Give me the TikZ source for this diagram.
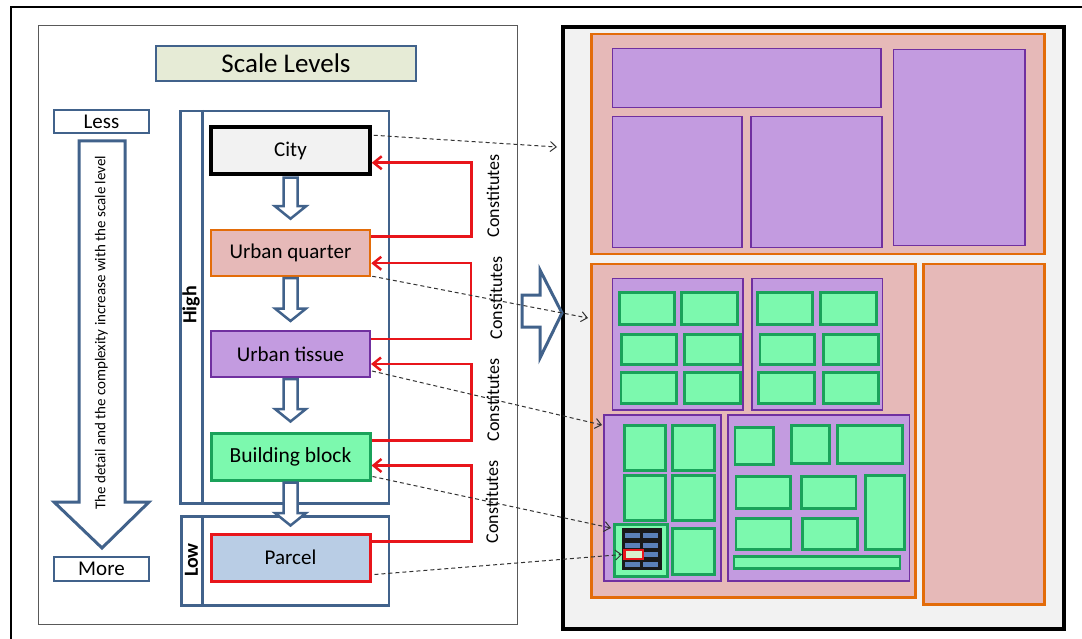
\documentclass[tikz,border=0pt]{standalone}
\usepackage{fontspec}
\setmainfont{Carlito}
\usetikzlibrary{arrows.meta,calc}
\definecolor{steel}{HTML}{41628B}
\definecolor{orgline}{HTML}{E36C09}
\definecolor{orgfill}{HTML}{E6B9B8}
\definecolor{purline}{HTML}{7030A0}
\definecolor{purfill}{HTML}{C39BE0}
\definecolor{grnline}{HTML}{1AA25A}
\definecolor{grnfill}{HTML}{7CF9AE}
\definecolor{redln}{HTML}{E8151B}
\definecolor{parfill}{HTML}{B9CDE5}
\definecolor{cityfill}{HTML}{F2F2F2}
\definecolor{titfill}{HTML}{E6EBD6}
\definecolor{mapfill}{HTML}{F2F2F2}
\definecolor{cellblue}{HTML}{5B80B8}
\definecolor{dashcol}{HTML}{333333}
\newcommand\rb[6]{\node[#1,anchor=north west,inner sep=0pt,minimum width={#5pt-#3pt},minimum height={#6pt-#4pt}] (#2) at (#3,#4) {};}
\newcommand\harrow[4]{%
\draw[hollow] let \p1=(#1.south), \p2=(#2.north) in
 (\x1-7pt,\y1-#3) -- (\x1+7pt,\y1-#3) -- (\x1+7pt,\y2+#4+12.5pt) -- (\x1+15.5pt,\y2+#4+12.5pt) -- (\x1,\y2+#4) -- (\x1-15.5pt,\y2+#4+12.5pt) -- (\x1-7pt,\y2+#4+12.5pt) -- cycle;}
\tikzset{
 sbox/.style={draw=steel,line width=2.5pt,fill=white},
 lvl/.style={line width=2.5pt,minimum width=159pt,font=\fontsize{21}{25}\selectfont,inner sep=0pt},
 hollow/.style={draw=steel,line width=2.5pt,fill=white,line join=miter},
 redline/.style={draw=redln,line width=2.5pt,-{Straight Barb[length=8pt,width=13pt]}},
 dashline/.style={draw=dashcol,line width=1pt,dash pattern=on 4pt off 3pt,-{Straight Barb[length=6pt,width=10pt]}},
 cons/.style={rotate=90,font=\fontsize{18}{20}\selectfont,inner sep=0pt},
 orng/.style={draw=orgline,fill=orgfill,line width=2.5pt},
 purp/.style={draw=purline,fill=purfill,line width=1.5pt},
 grn/.style={draw=grnline,fill=grnfill,line width=2.5pt},
 mapst/.style={draw=black,fill=mapfill,line width=4pt},
}
\begin{document}
\begin{tikzpicture}[x=1pt,y=-1pt]
\useasboundingbox (0,0) rectangle (1082,639);
\fill[white] (0,0) rectangle (1082,639);
% outer frame
\draw[black,line width=2pt] (10.5,650) -- (10.5,7) -- (1090,7);
% left panel
\rb{draw=black!65,line width=0.8pt}{panel}{37.5}{25}{517}{624}
% title
\node[sbox,fill=titfill,minimum width=260pt,minimum height=35pt,font=\fontsize{27}{30}\selectfont,inner sep=0pt] (title) at (286,63.5) {Scale Levels};
% less / more
\node[sbox,minimum width=95pt,minimum height=23pt,font=\fontsize{21}{25}\selectfont,inner sep=0pt] (less) at (101.5,121.5) {Less};
\node[sbox,minimum width=95pt,minimum height=24pt,font=\fontsize{21}{25}\selectfont,inner sep=0pt] (more) at (101.5,569) {More};
% big down arrow
\draw[hollow,line width=3pt] (79,141) -- (125,141) -- (125,502) -- (149,502) -- (102,548) -- (54,502) -- (79,502) -- cycle;
\node[rotate=90,font=\fontsize{15}{17}\selectfont,inner sep=0pt] (detail) at (101.5,332.5) {The detail and the complexity increase with the scale level};
% high / low frames
\rb{sbox}{high}{179}{110}{387.5}{502}
\draw[steel,line width=2.5pt] (high.north west) ++(23.5,0) coordinate (hl1) -- (hl1 |- high.south);
\node[rotate=90,font=\bfseries\fontsize{20}{22}\selectfont,inner sep=0pt] (hightxt) at (191,305) {High};
\rb{sbox}{low}{180}{515}{387.5}{604}
\draw[steel,line width=2.5pt] (low.north west) ++(22.5,0) coordinate (ll1) -- (ll1 |- low.south);
\node[rotate=90,font=\bfseries\fontsize{20}{22}\selectfont,inner sep=0pt] (lowtxt) at (191.5,560) {Low};
% level boxes
\node[lvl,draw=black,fill=cityfill,line width=3.5pt,minimum height=47pt] (city) at (290.5,150.5) {City};
\node[lvl,draw=orgline,fill=orgfill,minimum height=46pt] (uq) at (290.5,253) {Urban quarter};
\node[lvl,draw=purline,fill=purfill,line width=2pt,minimum height=46pt] (ut) at (290.5,354) {Urban tissue};
\node[lvl,draw=grnline,fill=grnfill,line width=3pt,minimum height=47pt,font=\fontsize{21.5}{25}\selectfont] (bb) at (290.5,456.5) {Building block};
\node[lvl,draw=redln,fill=parfill,line width=3pt,minimum height=47pt] (parcel) at (290.5,557.5) {Parcel};
% red connectors
\draw[redline] ($(uq.north east)+(0,8)$) -- ++(100,0) |- ($(city.south east)+(0,-13)$);
\draw[redline] ($(ut.north east)+(0,9)$) -- ++(100,0) |- ($(uq.south east)+(0,-14)$);
\draw[redline] ($(bb.north east)+(0,9)$) -- ++(100,0) |- ($(ut.south east)+(0,-14)$);
\draw[redline] ($(parcel.north east)+(0,9)$) -- ++(100,0) |- ($(bb.south east)+(0,-16)$);
% hollow arrows between levels
\harrow{city}{uq}{2pt}{10pt}
\harrow{uq}{ut}{1pt}{9pt}
\harrow{ut}{bb}{1pt}{10pt}
\harrow{bb}{parcel}{1pt}{7pt}
% constitutes labels
\node[cons] (c1) at (493,196) {Constitutes};
\node[cons] (c2) at (496,298) {Constitutes};
\node[cons] (c3) at (493,400) {Constitutes};
\node[cons] (c4) at (492,502) {Constitutes};
% right map
\rb{mapst}{map}{561}{25}{1062}{627}
\rb{orng}{qA}{590}{33}{1043}{253}
\rb{purp}{tA}{611.5}{48}{880}{107}
\rb{purp}{tB}{611.5}{116}{741}{247}
\rb{purp}{tC}{750}{116}{881}{247}
\rb{purp}{tD}{892.5}{49}{1024}{245}
\rb{orng}{qB}{590}{263}{914}{596}
\rb{orng}{qC}{922}{263}{1043}{603}
\rb{purp}{tE}{611.5}{278}{742}{409}
\rb{purp}{tF}{751}{278}{881.5}{409}
\rb{purp}{tG}{603}{414}{720}{580}
\rb{purp}{tH}{727}{414}{908.5}{580}
\rb{grn}{b1}{618}{291}{673}{323}
\rb{grn}{b2}{680}{291}{736}{323}
\rb{grn}{b3}{620}{333}{675}{363}
\rb{grn}{b4}{683}{333}{739}{363}
\rb{grn}{b5}{619.5}{371}{675}{402}
\rb{grn}{b6}{683}{371}{739}{402}
\rb{grn}{b7}{756}{291}{811}{323}
\rb{grn}{b8}{819}{291}{875}{323}
\rb{grn}{b9}{758.5}{333}{813}{363}
\rb{grn}{b10}{822}{333}{877}{363}
\rb{grn}{b11}{757}{371}{813}{402}
\rb{grn}{b12}{822}{371}{877}{402}
\rb{grn}{b13}{623}{424}{664}{469}
\rb{grn}{b14}{671}{424}{713}{469}
\rb{grn}{b15}{623}{474}{664}{519}
\rb{grn}{b16}{671}{474}{713}{519}
\rb{grn}{b17}{613}{523}{666}{575}
\rb{grn}{b18}{671}{527}{713}{573}
\rb{grn}{b19}{733.6}{426}{772}{463}
\rb{grn}{b20}{790}{424}{828}{462}
\rb{grn}{b21}{836}{424}{901}{462}
\rb{grn}{b22}{734.6}{475}{789}{507}
\rb{grn}{b23}{800}{475}{854.5}{507}
\rb{grn}{b24}{864}{474}{903}{548}
\rb{grn}{b25}{734.6}{517}{789.6}{548}
\rb{grn}{b26}{801}{517}{856}{548}
\rb{grn}{b27}{732.5}{555}{898.5}{567}
% parcel detail
\rb{fill=black!90}{pk}{622}{528}{662}{570}
\rb{fill=cellblue}{k1}{625}{533}{639.5}{538}
\rb{fill=cellblue}{k2}{643}{533}{657.5}{538}
\rb{fill=cellblue}{k3}{625}{542.5}{639.5}{547.5}
\rb{fill=cellblue}{k4}{643}{542.5}{657.5}{547.5}
\rb{fill=cellblue}{k5}{625}{552}{639.5}{557}
\rb{fill=cellblue}{k6}{643}{552}{657.5}{557}
\rb{fill=cellblue}{k7}{625}{561.5}{639.5}{566.5}
\rb{fill=cellblue}{k8}{643}{561.5}{657.5}{566.5}
\rb{draw=redln,fill=yellow!25!green!20,line width=2.5pt}{pr}{623}{548.5}{641.5}{557.5}
% big right arrow
\draw[hollow,line width=3pt] (522,295) -- (540,295) -- (540,270) -- (562,313) -- (540,358) -- (540,327) -- (522,327) -- cycle;
% dashed links
\draw[dashline] ($(city.north east)+(2,10)$) -- ($(map.north west)+(-4,122)$);
\draw[dashline] ($(uq.south east)+(1,-1)$) -- ($(qB.north west)+(-2,55)$);
\draw[dashline] ($(ut.south east)+(1,-7)$) -- ($(tG.north west)+(-1,11)$);
\draw[dashline] ($(bb.south east)+(1,-5)$) -- ($(b17.north west)+(-2,5)$);
\draw[dashline] ($(parcel.south east)+(3,-8)$) -- ($(pr.north west)+(-1,6)$);
\end{tikzpicture}
\end{document}
